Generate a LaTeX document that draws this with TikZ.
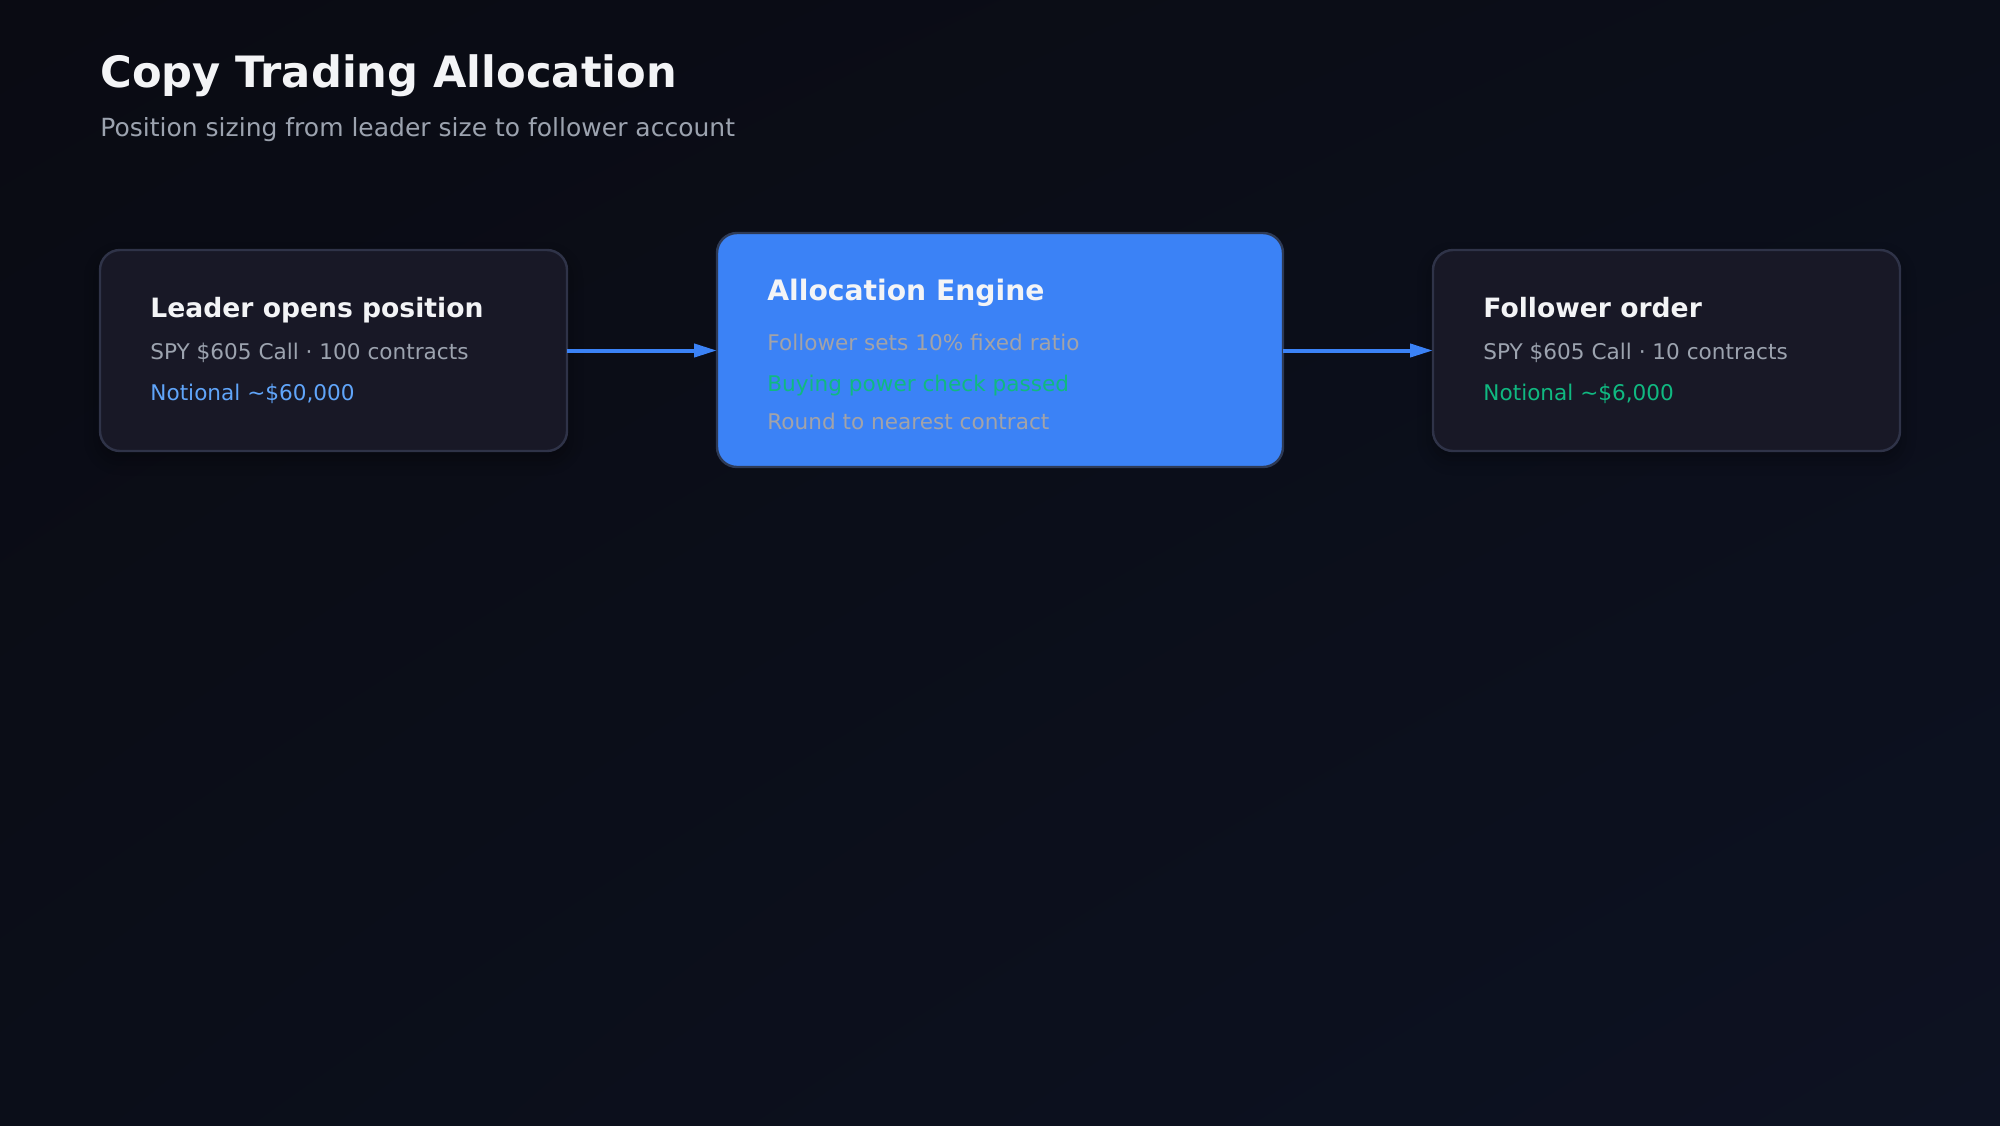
\documentclass[tikz,border=0pt]{standalone}
\usepackage{fontspec}
\setmainfont{DejaVu Sans}
\usetikzlibrary{arrows.meta,shadows.blur,shadings}
\definecolor{bgA}{HTML}{0A0B13}
\definecolor{bgB}{HTML}{0D1222}
\definecolor{bgM}{HTML}{0B0E19}
\definecolor{cardfill}{HTML}{181826}
\definecolor{cardline}{HTML}{2F3348}
\definecolor{engfill}{HTML}{3B82F6}
\definecolor{engline}{HTML}{2E3A55}
\definecolor{titlec}{HTML}{F3F4F6}
\definecolor{subc}{HTML}{9CA3AF}
\definecolor{bluet}{HTML}{60A5FA}
\definecolor{greent}{HTML}{10B981}
\definecolor{enggrey}{HTML}{A3A3A8}
\definecolor{arrowc}{HTML}{3B82F6}
\tikzset{
  card/.style={draw=cardline, line width=1.2pt, fill=cardfill, rounded corners=10pt, inner sep=0pt, outer sep=0pt,
    minimum width=233.5pt, minimum height=100.5pt,
    blur shadow={shadow xshift=0pt, shadow yshift=-4pt, shadow blur radius=8pt, shadow opacity=35}},
  engcard/.style={draw=engline, line width=1.2pt, fill=engfill, rounded corners=10pt, inner sep=0pt, outer sep=0pt,
    minimum width=283pt, minimum height=117pt},
  ttl/.style={anchor=base west, inner sep=0pt, text=titlec, font=\bfseries\fontsize{13.3}{16}\selectfont},
  engttl/.style={anchor=base west, inner sep=0pt, text=titlec, font=\bfseries\fontsize{14.1}{17}\selectfont},
  body/.style={anchor=base west, inner sep=0pt, font=\fontsize{10.8}{13}\selectfont},
  flow/.style={draw=arrowc, line width=2pt, -{Triangle[length=11.5pt, width=6.5pt]}}
}
\begin{document}
\begin{tikzpicture}[x=0.5pt, y=-0.5pt]
\useasboundingbox (0,0) rectangle (2000,1125);
\shade[upper left=bgA, lower right=bgB, upper right=bgM, lower left=bgM] (0,0) rectangle (2000,1125);

\node[anchor=base west, inner sep=0pt, text=titlec, font=\bfseries\fontsize{21.6}{25}\selectfont] (title) at (100,87) {Copy Trading Allocation};
\node[anchor=base west, inner sep=0pt, text=subc, font=\fontsize{12.5}{15}\selectfont] (subtitle) at (100,136.5) {Position sizing from leader size to follower account};

% boxes
\node[card] (leader) at (333.5,350.5) {};
\node[engcard] (engine) at (1000,350) {};
\node[card] (follower) at (1666.5,350.5) {};

% leader text
\node[ttl] (lt) at (150,317) {Leader opens position};
\node[body, text=subc] (l1) at (150,359) {SPY \$605 Call · 100 contracts};
\node[body, text=bluet] (l2) at (150,400) {Notional \textasciitilde\$60,000};

% engine text
\node[engttl] (et) at (767,300) {Allocation Engine};
\node[body, text=enggrey] (e1) at (767,350) {Follower sets 10\% fixed ratio};
\node[body, text=greent] (e2) at (767,391) {Buying power check passed};
\node[body, text=enggrey] (e3) at (767,429) {Round to nearest contract};

% follower text
\node[ttl] (ft) at (1483,317) {Follower order};
\node[body, text=subc] (f1) at (1483,359) {SPY \$605 Call · 10 contracts};
\node[body, text=greent] (f2) at (1483,400) {Notional \textasciitilde\$6,000};

% connectors
\draw[flow] (leader.east) -- (leader.east -| engine.west);
\draw[flow] (engine.east |- follower.west) -- (follower.west);
\end{tikzpicture}
\end{document}
